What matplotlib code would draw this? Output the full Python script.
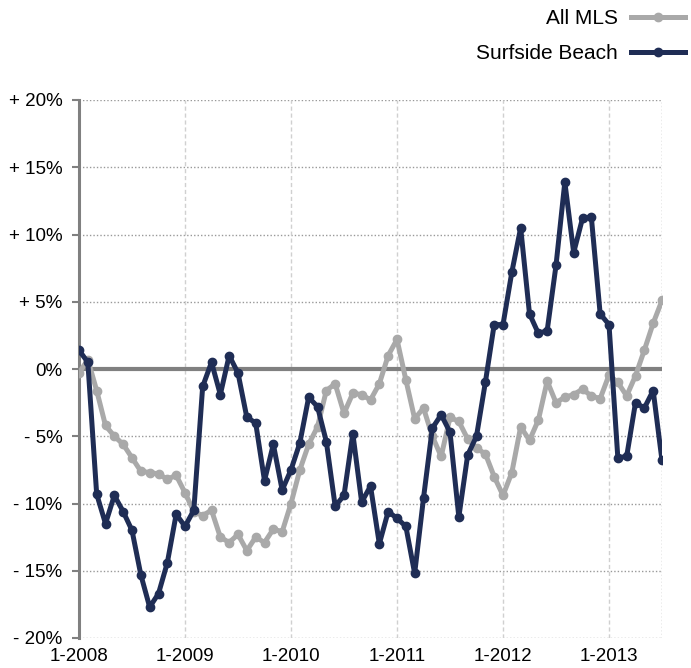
import matplotlib
matplotlib.use("Agg")
import matplotlib.pyplot as plt

plt.rcParams['font.family'] = ['Liberation Sans', 'DejaVu Sans']

# monthly labels, Jan 2008 .. Jul 2013
months = [f"{m}-{y}" for y in range(2008, 2014) for m in range(1, 13)][:67]
year_labels = ["1-2008", "1-2009", "1-2010", "1-2011", "1-2012", "1-2013"]

# year-over-year change (%)
all_mls = [-0.3, 0.7, -1.6, -4.2, -5.0, -5.6, -6.6, -7.6, -7.7, -7.8, -8.2, -7.9,
           -9.2, -10.6, -10.9, -10.5, -12.5, -12.9, -12.3, -13.5, -12.5, -12.9, -11.9, -12.1,
           -10.0, -7.5, -5.6, -4.3, -1.6, -1.1, -3.3, -1.8, -1.9, -2.3, -1.1, 1.0,
           2.2, -0.8, -3.7, -2.9, -5.0, -6.5, -3.6, -3.9, -5.2, -5.9, -6.3, -8.0,
           -9.4, -7.7, -4.3, -5.3, -3.8, -0.9, -2.5, -2.1, -1.9, -1.5, -2.0, -2.2,
           -0.45, -1.0, -2.0, -0.5, 1.4, 3.4, 5.1]
surfside = [1.4, 0.5, -9.3, -11.5, -9.4, -10.6, -12.0, -15.3, -17.7, -16.7, -14.4, -10.8,
            -11.7, -10.5, -1.3, 0.5, -1.9, 1.0, -0.3, -3.6, -4.0, -8.3, -5.6, -9.0,
            -7.5, -5.5, -2.1, -2.8, -5.4, -10.2, -9.4, -4.8, -9.9, -8.7, -13.0, -10.6,
            -11.1, -11.7, -15.2, -9.6, -4.4, -3.4, -4.7, -11.0, -6.4, -5.0, -1.0, 3.3,
            3.3, 7.2, 10.5, 4.1, 2.65, 2.85, 7.7, 13.9, 8.65, 11.2, 11.3, 4.1,
            3.3, -6.6, -6.5, -2.5, -2.9, -1.6, -6.8]

y_ticks = [20, 15, 10, 5, 0, -5, -10, -15, -20]
y_labels = ["+ 20%", "+ 15%", "+ 10%", "+ 5%", "0%", "- 5%", "- 10%", "- 15%", "- 20%"]

x = list(range(len(months)))

fig = plt.figure(figsize=(6.91, 6.68), dpi=100)
ax = fig.add_axes([79 / 691, 30 / 668, (662 - 79) / 691, (638 - 100) / 668])

# grid
for t in y_ticks:
    if t != 0:
        ax.axhline(t, color="#999999", lw=1, ls=(0, (1, 1.5)), zorder=1)
for i, lab in enumerate(months):
    if lab in year_labels and i > 0:
        ax.axvline(i, color="#d0d0d0", lw=1, ls=(0, (3, 2)), zorder=1)
ax.axvline(len(months) - 1, color="#999999", lw=1, ls=(0, (1, 1.5)), zorder=1)
ax.axhline(0, color="#808080", lw=3, zorder=2)

ax.plot(x, all_mls, color="#a9a9a9", lw=3.6, marker="o", ms=6, label="All MLS", zorder=3)
ax.plot(x, surfside, color="#1f2d55", lw=3.6, marker="o", ms=6, label="Surfside Beach", zorder=4)

ax.set_xlim(0, len(months) - 1)
ax.set_ylim(-20, 20)
ax.set_yticks(y_ticks)
ax.set_yticklabels(y_labels, fontsize=13.5)
ax.set_xticks([months.index(l) for l in year_labels])
ax.set_xticklabels(year_labels, fontsize=13.5)
ax.tick_params(axis="x", length=0, pad=7)
ax.tick_params(axis="y", length=5, width=1.5, color="#808080", pad=7)

for s in ["top", "right", "bottom"]:
    ax.spines[s].set_visible(False)
ax.spines["left"].set_color("#808080")
ax.spines["left"].set_linewidth(2.2)

fig.legend(loc="upper right", bbox_to_anchor=(1.012, 1.008), frameon=False, markerfirst=False,
           fontsize=15, handlelength=2.6, handletextpad=0.6, labelspacing=0.75,
           borderaxespad=0.3)

fig.savefig("out.png", dpi=100)
